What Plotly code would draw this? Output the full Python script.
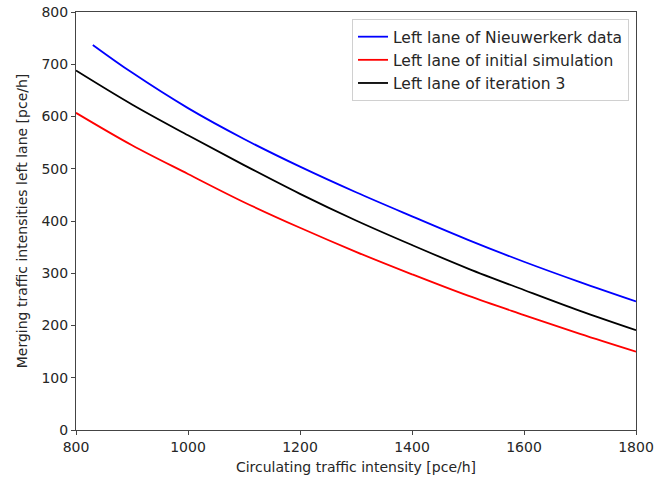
import plotly.graph_objects as go

x_blue = [830, 900, 1000, 1100, 1200, 1300, 1400, 1500, 1600, 1700, 1800]
y_blue = [737, 684, 616, 557, 504, 455, 409, 364, 322, 283, 246]

x_sim = [800, 900, 1000, 1100, 1200, 1300, 1400, 1500, 1600, 1700, 1800]
y_red = [607, 545, 490, 436, 387, 341, 298, 257, 220, 184, 150]
y_black = [688, 623, 564, 507, 452, 401, 354, 309, 268, 228, 191]

x_ticks = [800, 1000, 1200, 1400, 1600, 1800]
y_ticks = [0, 100, 200, 300, 400, 500, 600, 700, 800]

font = "DejaVu Sans, sans-serif"
txt = "#262626"

fig = go.Figure()
fig.add_trace(go.Scatter(x=x_blue, y=y_blue, mode="lines", name="Left lane of Nieuwerkerk data",
                         legendgroup="a", line=dict(color="#0000ff", width=1.8, shape="spline")))
fig.add_trace(go.Scatter(x=x_sim, y=y_red, mode="lines", name="Left lane of initial simulation",
                         legendgroup="b", line=dict(color="#ff0000", width=1.8, shape="spline")))
fig.add_trace(go.Scatter(x=x_sim, y=y_black, mode="lines", name="Left lane of iteration 3",
                         legendgroup="c", line=dict(color="#000000", width=1.8, shape="spline")))

axis_common = dict(showgrid=False, zeroline=False, showline=True, linecolor="#444444", linewidth=1.1,
                   mirror=True, ticks="outside", ticklen=4, tickwidth=1, tickcolor="#444444",
                   automargin=False,
                   tickfont=dict(family=font, size=14, color=txt))

fig.update_layout(
    width=655, height=482,
    margin=dict(l=76, r=19, t=12, b=52),
    paper_bgcolor="white", plot_bgcolor="white",
    font=dict(family=font, size=14, color=txt),
    xaxis=dict(range=[800, 1800], tickvals=x_ticks,
               title=dict(text="Circulating traffic intensity [pce/h]", font=dict(size=14, color=txt), standoff=8),
               **axis_common),
    yaxis=dict(range=[0, 800], tickvals=y_ticks,
               title=dict(text="Merging traffic intensities left lane [pce/h]", font=dict(size=14, color=txt), standoff=10),
               **axis_common),
    legend=dict(x=0.9875, y=0.983, xanchor="right", yanchor="top",
                bgcolor="rgba(255,255,255,0.8)", bordercolor="#d0d0d0", borderwidth=1,
                font=dict(family=font, size=15.5, color=txt),
                itemwidth=30, tracegroupgap=0),
    showlegend=True,
)

fig.write_html("out.html", config={"displayModeBar": False},
               post_script="document.body.style.margin='0';document.body.style.overflow='hidden';")
